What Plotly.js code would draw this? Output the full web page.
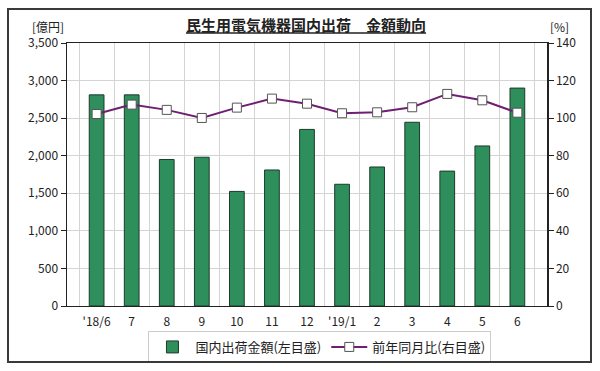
<!DOCTYPE html>
<html><head><meta charset="utf-8">
<script src="https://cdn.plot.ly/plotly-3.0.1.min.js"></script>
<style>
body{margin:0;background:#fff}
#chart{width:600px;height:371px}
#frame{position:absolute;left:7px;top:8px;width:581px;height:351px;border:2px solid #3a3a3a;pointer-events:none}
</style>
</head><body>
<div id="chart"></div><div id="frame"></div>
<script>
const months = ["'18/6","7","8","9","10","11","12","'19/1","2","3","4","5","6"];
const shipments = [2810,2810,1950,1980,1525,1810,2350,1620,1850,2445,1795,2130,2900];
const yoy = [102.2,107.2,104.4,100.1,105.6,110.4,107.7,102.6,103.1,105.8,112.9,109.5,102.9];
const leftTicks = [0,500,1000,1500,2000,2500,3000,3500];
const leftTickText = ["0","500","1,000","1,500","2,000","2,500","3,000","3,500"];
const rightTicks = [0,20,40,60,80,100,120,140];

const FONT = '"Noto Sans CJK JP", "Noto Sans", sans-serif';

const traces = [
  {
    type: 'bar', x: months, y: shipments, name: '国内出荷金額(左目盛)',
    marker: {color: '#2e8f5c', line: {color: '#1c3b2a', width: 1}},
    yaxis: 'y'
  },
  {
    type: 'scatter', mode: 'lines+markers', x: months, y: yoy, name: '前年同月比(右目盛)',
    line: {color: '#6f1f72', width: 2},
    marker: {symbol: 'square', size: 9, color: '#ffffff', line: {color: '#555555', width: 1}},
    yaxis: 'y2'
  }
];

const layout = {
  width: 600, height: 371,
  margin: {l: 67, r: 53, t: 43, b: 65, autoexpand: false},
  paper_bgcolor: '#fff', plot_bgcolor: '#fff',
  font: {family: FONT, size: 12, color: '#222'},
  title: {
    text: '<u>民生用電気機器国内出荷　金額動向</u>',
    font: {family: FONT, size: 15, color: '#222', weight: 'bold'},
    x: (306 - 67) / 480, xref: 'paper', xanchor: 'center',
    y: 1 - 26/371, yref: 'container', yanchor: 'middle'
  },
  bargap: 0.58,
  showlegend: true,
  legend: {
    orientation: 'h', x: 0.527, xanchor: 'center', y: -0.095, yanchor: 'top',
    bordercolor: '#cccccc', borderwidth: 1, bgcolor: '#fff',
    font: {family: FONT, size: 13, color: '#222'},
    itemwidth: 36
  },
  xaxis: {
    type: 'category', tickson: 'boundaries', tickangle: 0,
    showgrid: true, gridcolor: '#d4d4d4', gridwidth: 1,
    showline: true, linecolor: '#222', linewidth: 1, mirror: true,
    ticks: '', ticklabelstandoff: 5, tickfont: {family: FONT, size: 12, color: '#222'},
    zeroline: false, automargin: false
  },
  yaxis: {
    range: [0, 3500], tickvals: leftTicks, ticktext: leftTickText,
    showgrid: true, gridcolor: '#d4d4d4', gridwidth: 1,
    showline: true, linecolor: '#222', linewidth: 1.5,
    ticks: 'outside', ticklen: 5, tickcolor: '#222',
    tickfont: {family: FONT, size: 12, color: '#222'},
    zeroline: false, automargin: false
  },
  yaxis2: {
    overlaying: 'y', side: 'right', range: [0, 140], tickvals: rightTicks,
    showgrid: false,
    showline: true, linecolor: '#222', linewidth: 1.5,
    ticks: 'outside', ticklen: 5, tickcolor: '#222',
    tickfont: {family: FONT, size: 12, color: '#222'},
    zeroline: false, automargin: false
  },
  annotations: [
    {text: '[億円]', xref: 'paper', yref: 'paper', x: (48 - 67) / 480, y: (306 - 26) / 263, xanchor: 'center', yanchor: 'middle', showarrow: false, font: {family: FONT, size: 12, color: '#222'}},
    {text: '[%]', xref: 'paper', yref: 'paper', x: (559 - 67) / 480, y: (306 - 26) / 263, xanchor: 'center', yanchor: 'middle', showarrow: false, font: {family: FONT, size: 12, color: '#222'}}
  ]
};

Plotly.newPlot('chart', traces, layout, {staticPlot: true, displayModeBar: false});
</script>
</body></html>
